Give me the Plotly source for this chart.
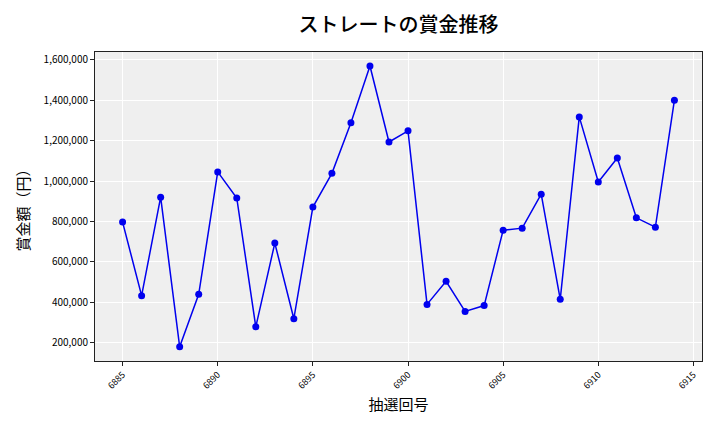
import plotly.graph_objects as go

draws = list(range(6885, 6915))
prizes = [797000, 433000, 920000, 180000, 440000, 1045000, 916000, 279000, 693000, 319000,
          871000, 1038000, 1288000, 1569000, 1193000, 1248000, 390000, 504000, 355000, 384000,
          757000, 767000, 935000, 415000, 1317000, 995000, 1114000, 818000, 772000, 1400000]

x_ticks = [6885, 6890, 6895, 6900, 6905, 6910, 6915]
y_ticks = [200000, 400000, 600000, 800000, 1000000, 1200000, 1400000, 1600000]

font_jp = "Noto Sans CJK JP"

fig = go.Figure()
fig.add_trace(go.Scatter(
    x=draws, y=prizes, mode="lines+markers",
    line=dict(color="#0000ee", width=1.5),
    marker=dict(color="#0000ee", size=7),
    showlegend=False,
))

fig.update_layout(
    width=720, height=432,
    margin=dict(l=87, r=26, t=44, b=79),
    paper_bgcolor="white",
    plot_bgcolor="#efefef",
    font=dict(family=font_jp, color="black"),
    title=dict(text="ストレートの賞金推移", xref="paper", x=0.5, xanchor="center",
               y=0.96, yanchor="middle",
               font=dict(family=font_jp, size=20, color="black", weight=500)),
)
fig.update_xaxes(
    range=[6883.55, 6915.45], tickvals=x_ticks, ticktext=[str(v) for v in x_ticks],
    tickangle=-45, tickfont=dict(size=9, family=font_jp),
    showgrid=True, gridcolor="white", gridwidth=1,
    showline=True, linecolor="#222", linewidth=1, mirror=True,
    ticks="outside", ticklen=4, tickcolor="#222",
    title=dict(text="抽選回号", font=dict(size=15, family=font_jp), standoff=8),
    zeroline=False,
)
fig.update_yaxes(
    range=[110000, 1638000], tickvals=y_ticks, ticktext=[f"{v:,}" for v in y_ticks],
    tickfont=dict(size=10, family=font_jp),
    showgrid=True, gridcolor="white", gridwidth=1,
    showline=True, linecolor="#222", linewidth=1, mirror=True,
    ticks="outside", ticklen=4, tickcolor="#222",
    title=dict(text="賞金額（円）", font=dict(size=15, family=font_jp), standoff=10),
    zeroline=False,
)

fig.write_html("out.html")
